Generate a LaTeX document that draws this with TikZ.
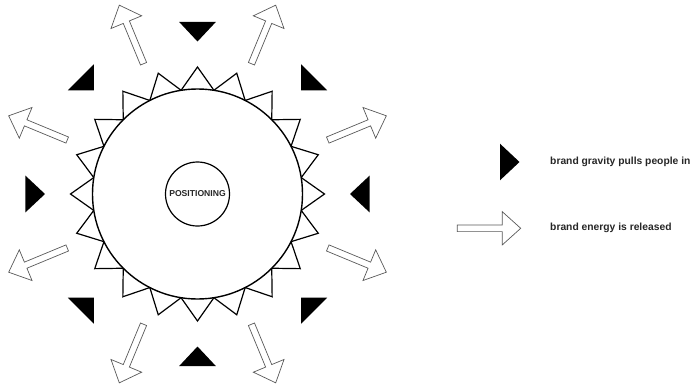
\documentclass[tikz,border=0pt]{standalone}
\usepackage{fontspec}
\setmainfont{Liberation Sans}
\usetikzlibrary{positioning}

\begin{document}
\begin{tikzpicture}[x=1pt, y=1pt, line join=miter,
  ring/.style={draw, line width=1.4pt, fill=white},
  teeth/.style={draw, line width=1.2pt, fill=white},
  lbl/.style={font=\bfseries\fontsize{10.3}{12}\selectfont, text=black!85,
              anchor=west, inner sep=0pt},
  pull/.pic={\fill[black] (0,-18.3) -- (0,18.3) -- (19.5,0) -- cycle;},
  corner/.pic={\fill[black] (0,-18.3) -- (0,18.3) -- (18.3,0) -- cycle;},
  energy/.pic={\draw[draw=black!65, line width=0.7pt, fill=white]
     (0,-3.3) -- (45,-3.3) -- (45,-16.6) -- (63.4,0) -- (45,16.6)
     -- (45,3.3) -- (0,3.3) -- cycle;}]
\useasboundingbox (-197.5,-192) rectangle (494.5,194);

% the sun: twenty teeth round the brand circle
\draw[teeth] (81:105) \foreach \k in {0,...,19}
  { -- ({90+18*\k}:127) -- ({99+18*\k}:105) } -- cycle;
\node[circle, ring, minimum size=210pt, inner sep=0pt] (brand) at (0,0) {};
\node[circle, draw, line width=1.2pt, minimum size=64pt, inner sep=0pt,
      font=\bfseries\fontsize{8.6}{10}\selectfont, text=black!85] (core)
      at (0,0) {POSITIONING};

% gravity pulls inwards, energy goes out between
\foreach \a in {0,90,180,270}
  \pic[rotate=\a+180] at (\a:172) {pull};
\foreach \a in {45,135,225,315}
  \pic[rotate=\a+180] at (\a:165) {corner};
\foreach \a in {22.5,67.5,...,337.5}
  \pic[rotate=\a] at (\a:141) {energy};

% legend
\pic at (302.5,32) {pull};
\node[lbl] (gravity) at (352.5,32) {brand gravity pulls people in};
\pic at (259.8,-34.3) {energy};
\node[lbl] (release) at (352.5,-34.3) {brand energy is released};
\end{tikzpicture}
\end{document}
